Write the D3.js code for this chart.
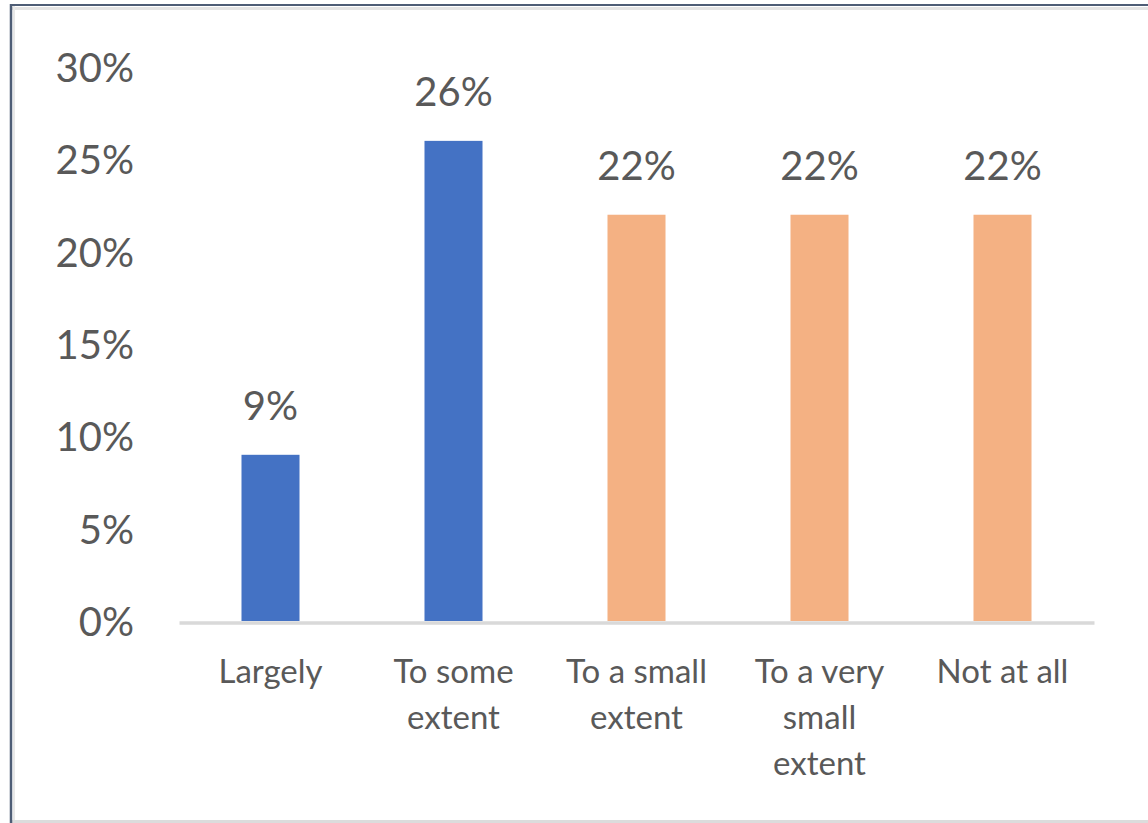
<!DOCTYPE html>
<html>
<head>
<meta charset="utf-8">
<script src="https://cdn.jsdelivr.net/npm/d3@7"></script>
<style>
  html, body { margin: 0; padding: 0; background: #ffffff; }
  svg { display: block; }
  text { font-family: Lato, "Open Sans", "DejaVu Sans", sans-serif; fill: #595959; }
</style>
</head>
<body>
<script>
// Survey responses: share of respondents per answer
const categories = ["Largely", "To some extent", "To a small extent", "To a very small extent", "Not at all"];
const categoryLines = [["Largely"], ["To some", "extent"], ["To a small", "extent"], ["To a very", "small", "extent"], ["Not at all"]];
const values = [9, 26, 22, 22, 22];
const barColors = ["#4472C4", "#4472C4", "#F4B183", "#F4B183", "#F4B183"];
const yTicks = [0, 5, 10, 15, 20, 25, 30];

const W = 1148, H = 823;
const svg = d3.select("body").append("svg").attr("width", W).attr("height", H);

// Chart frame
svg.append("rect").attr("x", 12).attr("y", 6).attr("width", W - 12).attr("height", H - 6).attr("fill", "#ffffff");
svg.append("line").attr("x1", 12).attr("x2", W).attr("y1", 8.5).attr("y2", 8.5).attr("stroke", "#e4e4e4").attr("stroke-width", 3);
svg.append("line").attr("x1", 14).attr("x2", 14).attr("y1", 6).attr("y2", H).attr("stroke", "#e8e8e8").attr("stroke-width", 2);
svg.append("line").attr("x1", 12).attr("x2", W).attr("y1", 821.5).attr("y2", 821.5).attr("stroke", "#dcdcdc").attr("stroke-width", 3);
svg.append("line").attr("x1", 10).attr("x2", W).attr("y1", 5).attr("y2", 5).attr("stroke", "#4e5d76").attr("stroke-width", 2);
svg.append("line").attr("x1", 11).attr("x2", 11).attr("y1", 4).attr("y2", H).attr("stroke", "#4e5d76").attr("stroke-width", 2.5);

const x = d3.scaleBand().domain(categories).range([179, 1094]).paddingInner(0.683).paddingOuter(0.3415);
const y = d3.scaleLinear().domain([0, 30]).range([621, 67]);

// Value axis labels (no gridlines)
const yAxis = svg.append("g").attr("transform", "translate(134,0)")
  .call(d3.axisLeft(y).tickValues(yTicks).tickFormat(d => d + "%").tickSize(0).tickPadding(0));
yAxis.select(".domain").remove();
yAxis.selectAll("text").attr("font-size", 40).attr("text-anchor", "end").attr("dy", "0.36em").style("fill", "#595959");

// Bars
svg.append("g").selectAll("rect").data(values).join("rect")
  .attr("x", (d, i) => x(categories[i]))
  .attr("y", d => y(d))
  .attr("width", x.bandwidth())
  .attr("height", d => y(0) - y(d))
  .attr("fill", (d, i) => barColors[i]);

// Category axis line
const xAxis = svg.append("g").attr("transform", "translate(0," + (y(0) + 1.5) + ")")
  .call(d3.axisBottom(x).tickSize(0).tickFormat(""));
xAxis.select(".domain").attr("stroke", "#d9d9d9").attr("stroke-width", 3.5);

// Category labels, wrapped
xAxis.selectAll(".tick").each(function(d, i) {
  const t = d3.select(this).append("text")
    .attr("text-anchor", "middle")
    .attr("font-size", 33)
    .attr("y", 60)
    .style("fill", "#595959");
  categoryLines[i].forEach((line, k) => {
    t.append("tspan").attr("x", 0).attr("y", 60 + k * 46).text(line);
  });
});

// Data labels
svg.append("g").selectAll("text").data(values).join("text")
  .attr("x", (d, i) => x(categories[i]) + x.bandwidth() / 2)
  .attr("y", d => y(d) - 35)
  .attr("text-anchor", "middle")
  .attr("font-size", 40)
  .text(d => d + "%");
</script>
</body>
</html>
